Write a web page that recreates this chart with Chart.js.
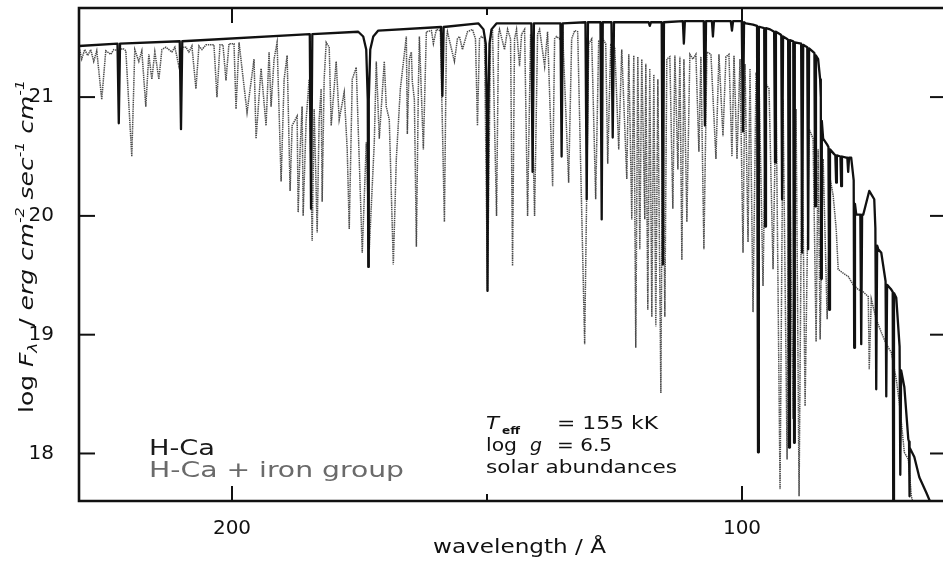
<!DOCTYPE html>
<html><head><meta charset="utf-8">
<script src="https://cdn.jsdelivr.net/npm/chart.js@4.4.1/dist/chart.umd.min.js"></script>
<style>html,body{margin:0;padding:0;background:#fff;overflow:hidden;width:943px;height:561px}canvas{display:block}</style>
</head><body><canvas id="c" width="950" height="561"></canvas>
<script>
// ---- data (wavelength in Å, log F_lambda) ----
const seriesNames = ['H-Ca', 'H-Ca + iron group'];
const xTickValues = [200, 150, 100];
const xTickLabels = ['200', '', '100'];
const yTickValues = [18, 19, 20, 21];

const hcaSpectrum = [
[230.0,21.43],
[222.45,21.45],[222.2,20.78],[221.95,21.45],
[210.25,21.47],[210.0,20.73],[209.75,21.47],
[184.75,21.53],[184.5,20.06],[184.25,21.53],
[175.25,21.55],[174.27,21.51],[173.68,21.40],[173.38,20.98],[173.28,19.57],[173.18,20.98],[172.89,21.40],[172.30,21.51],[171.32,21.56],
[159.0,21.59],[158.75,21.01],[158.5,21.59],
[151.67,21.62],[150.69,21.57],[150.24,21.45],[150.0,20.81],[149.9,19.37],[149.78,20.81],[149.51,21.45],[149.12,21.57],[148.14,21.62],
[141.3,21.62],[141.06,20.37],[140.8,21.62],
[135.6,21.62],[135.37,20.50],[135.15,21.62],
[130.7,21.63],[130.45,20.14],[130.2,21.63],
[127.75,21.63],[127.51,19.97],[127.3,21.63],
[125.6,21.63],[125.35,20.66],[125.1,21.63],
[118.3,21.63],[118.08,21.60],[117.85,21.63],
[115.75,21.63],[115.52,19.59],[115.3,21.63],
[111.6,21.64],[111.40,21.45],[111.2,21.64],
[107.5,21.64],[107.27,20.76],[107.05,21.64],
[105.9,21.64],[105.70,21.51],[105.5,21.64],
[102.2,21.64],[101.97,21.56],[101.75,21.64],
[100.05,21.64],[99.81,20.71],[99.6,21.63],
[99.22,21.62],[97.84,21.61],
[97.05,21.60],[96.86,18.01],[96.7,21.59],
[96.46,21.59],
[95.65,21.58],[95.48,19.91],[95.3,21.58],
[94.49,21.57],
[93.7,21.55],[93.52,20.45],[93.35,21.55],
[92.53,21.53],
[92.3,21.52],[92.14,20.14],[91.95,21.51],
[91.15,21.49],
[90.95,21.48],[90.77,18.05],[90.6,21.48],
[89.95,21.47],[89.79,18.09],[89.65,21.46],
[88.4,21.45],[88.21,19.69],[88.0,21.44],
[87.62,21.43],
[87.2,21.42],[87.03,19.72],[86.85,21.41],
[86.05,21.38],
[85.8,21.37],[85.66,20.08],[85.5,21.35],
[85.07,21.32],
[84.68,21.15],
[84.55,21.0],[84.48,19.47],[84.35,20.8],
[84.09,20.65],
[83.30,20.60],
[83.05,20.58],[82.91,19.21],[82.75,20.56],
[81.93,20.52],
[81.7,20.51],[81.54,20.28],[81.4,20.51],
[80.7,20.50],[80.55,20.25],[80.4,20.50],
[79.57,20.49],
[79.35,20.49],[79.18,20.37],[79.0,20.49],
[78.59,20.49],
[78.1,20.3],[78.0,18.89],[77.85,20.1],
[77.59,20.01],
[76.8,20.01],[76.62,18.92],[76.45,20.01],
[76.23,20.01],
[75.05,20.21],
[74.07,20.14],
[73.85,19.9],[73.68,18.54],[73.5,19.75],
[73.28,19.72],
[72.69,19.69],
[71.85,19.45],[71.71,18.48],[71.55,19.42],
[70.73,19.38],
[70.45,19.36],[70.34,17.5],[70.2,19.35],
[69.75,19.31],
[69.1,18.9],[68.96,17.82],[68.8,18.7],
[68.17,18.56],
[67.39,18.12],
[67.25,18.1],[67.19,17.64],[67.1,18.05],
[66.21,17.97],
[65.23,17.80],
[63.85,17.67],
[62.87,17.57]
];

const ironSpectrum = [
[229.86,21.40],[229.47,21.32],[228.88,21.40],[228.29,21.35],[227.70,21.40],[227.11,21.30],[226.52,21.39],[225.54,20.98],[224.75,21.39],[223.77,21.36],[223.18,21.40],[222.20,21.39],[221.41,21.41],[220.82,21.39],[219.65,20.50],[219.06,21.40],[218.27,21.30],[217.68,21.39],[216.90,20.92],[216.31,21.36],[215.72,21.15],[215.13,21.38],[214.34,21.15],[213.75,21.40],[212.97,21.42],[211.79,21.38],[211.20,21.42],[210.41,21.26],[209.63,21.42],[209.04,21.42],[208.45,21.38],[207.86,21.43],[207.07,21.07],[206.48,21.43],[205.89,21.40],[205.11,21.44],[204.32,21.44],[203.54,21.44],[202.95,21.00],[202.36,21.44],[201.77,21.44],[201.18,21.14],[200.59,21.45],
[199.61,21.45],[199.21,20.90],[198.62,21.46],[197.05,20.87],[195.68,21.32],[195.28,20.65],[194.30,21.24],[193.32,20.76],[192.73,21.38],[192.34,20.92],[191.75,21.32],[191.16,21.46],[190.37,20.29],[189.78,21.15],[189.19,21.35],[188.61,20.21],[188.21,20.76],[187.23,20.84],[187.03,20.03],[186.64,20.56],[186.25,20.92],[186.05,20.00],[185.46,20.81],[184.87,21.15],[184.28,19.79],[183.89,20.90],[183.30,19.86],[182.91,20.81],[182.52,21.07],[182.32,20.12],[181.93,21.15],[181.53,21.46],[180.94,21.42],[180.55,20.76],[179.57,21.30],[178.98,20.81],[178.00,21.04],[177.41,20.56],[177.01,19.89],[176.42,21.15],[175.64,21.25],[174.46,19.69],[173.67,20.62],[173.08,19.72],[172.10,20.62],[171.71,21.30],
[171.12,20.65],[170.14,21.30],[169.75,20.92],[169.16,20.81],[168.37,19.59],[167.78,20.48],[166.99,21.07],[165.82,21.51],[165.62,20.69],[165.23,21.32],[164.83,21.38],[164.64,21.13],[164.24,20.98],[163.85,19.74],[163.46,21.07],[163.26,21.51],[162.48,20.56],[161.89,21.55],[160.90,21.56],[160.51,21.45],[159.92,21.57],[159.14,21.56],[158.35,19.95],[157.96,21.49],[157.76,21.55],[156.39,21.30],[155.80,21.49],[155.40,21.51],[154.81,21.40],[153.83,21.55],[152.85,21.57],[152.26,21.49],[151.87,20.76],[151.47,21.49],[151.08,21.51],[150.49,21.49],[149.90,19.36],[149.31,21.49],[148.92,21.57],[148.13,20.00],[147.74,21.53],[147.55,21.57],[146.56,21.40],[145.97,21.57],[145.38,21.49],[144.99,19.58],[144.60,21.49],[144.21,21.57],[143.62,21.26],[143.22,21.53],[142.63,21.57],[142.04,20.00],[141.45,21.53],
[140.67,20.00],[140.08,21.53],[139.69,21.57],[138.70,21.26],[138.12,21.55],[137.13,20.25],[136.74,21.49],[136.35,21.51],[135.76,21.49],[135.17,21.55],[133.99,20.28],[133.40,21.49],[132.81,21.56],[132.22,21.55],[130.85,18.92],[130.06,21.45],[129.47,21.49],[128.69,20.14],[128.10,21.47],[127.31,21.49],[126.72,21.45],[126.33,20.44],[125.74,21.44],[124.95,21.42],[124.17,20.56],[123.58,21.40],[122.59,20.31],[122.20,21.36],[121.61,19.97],[121.22,21.35],[120.83,18.89],[120.43,21.34],[120.04,19.72],[119.65,21.32],[119.06,19.97],[118.86,21.28],[118.47,19.21],[118.08,21.24],[117.68,19.15],[117.29,21.19],[116.90,19.07],[116.50,21.15],[115.91,18.51],[115.52,21.24],[115.13,19.15],[114.74,21.32],[114.15,21.34],[113.56,20.06],[113.16,21.35],[112.57,20.39],[112.18,21.34],
[111.79,19.63],[111.39,21.32],[110.81,19.95],[110.22,21.36],[109.63,21.32],[109.04,21.36],[108.45,20.54],[108.06,21.34],[107.47,19.72],[106.88,21.38],[106.09,21.36],[105.11,20.48],[104.52,21.36],[103.73,20.67],[103.15,21.34],[102.56,21.36],[101.97,20.50],[101.57,21.35],[100.98,20.48],[100.39,21.32],[99.80,19.69],[99.41,21.28],[98.82,19.78],[98.43,21.24],[97.84,19.19],[97.25,21.19],[96.66,21.15],[95.88,19.41],[95.29,21.11],[94.70,21.07],[93.91,19.55],[93.32,21.03],[92.54,17.70],[91.95,20.98],[91.16,17.95],[90.77,20.94],[89.98,18.29],[89.40,20.90],[88.81,17.64],[88.22,20.81],[87.63,18.40],[86.84,20.73],[86.06,20.65],[85.47,18.94],[85.07,20.56],[84.68,18.96],[84.09,20.48],[83.30,19.13],[82.71,20.31],[82.12,20.17],[81.53,19.89],[81.14,19.55],[80.55,19.53],[79.17,19.49],[78.19,19.42],[77.21,19.38],[76.23,19.36],[75.24,19.32],[75.05,18.71],[74.65,19.30],[73.67,19.13],[72.69,19.02],[71.71,18.92],[70.72,18.85],[69.74,18.62],[69.15,18.43],[68.17,18.01],[67.38,17.95],[66.79,17.64],[66.40,17.57]
];

// ---- drawing helpers ----
const FONT = '"DejaVu Sans", "Liberation Sans", sans-serif';
function fitText(ctx, text, x, y, width, font, color) {
  ctx.font = font; ctx.fillStyle = color;
  if ('letterSpacing' in ctx) ctx.letterSpacing = '0px';
  const w = ctx.measureText(text).width;
  ctx.save(); ctx.translate(x, y); ctx.scale(width / w, 1); ctx.fillText(text, 0, 0); ctx.restore();
}
function richText(ctx, parts, width) {
  let total = 0;
  parts.forEach(p => { ctx.font = p.font; p.w = ctx.measureText(p.t).width; total += p.w; });
  ctx.save(); ctx.scale(width / total, 1);
  let cx = 0;
  parts.forEach(p => { ctx.font = p.font; ctx.fillText(p.t, cx, p.dy || 0); cx += p.w; });
  ctx.restore();
}

const framePlugin = {
  id: 'frame',
  afterDraw(chart) {
    const ctx = chart.ctx, a = chart.chartArea, xs = chart.scales.x, ys = chart.scales.y;
    ctx.save();
    ctx.strokeStyle = '#111'; ctx.lineCap = 'butt';
    ctx.lineWidth = 2.6;
    ctx.beginPath();
    ctx.moveTo(a.left, a.bottom); ctx.lineTo(a.left, a.top); ctx.lineTo(a.right, a.top);
    ctx.lineTo(a.right, a.bottom); ctx.closePath(); ctx.stroke();
    ctx.lineWidth = 2;
    const seg = (x1, y1, x2, y2) => { ctx.beginPath(); ctx.moveTo(x1, y1); ctx.lineTo(x2, y2); ctx.stroke(); };
    xTickValues.forEach((v, i) => {
      const px = xs.getPixelForValue(v);
      const len = xTickLabels[i] ? 15 : 7;
      seg(px, a.top, px, a.top + len);
      seg(px, a.bottom, px, a.bottom - len);
    });
    yTickValues.forEach(v => {
      const py = ys.getPixelForValue(v);
      seg(a.left, py, a.left + 16, py);
      seg(a.right, py, a.right - 16, py);
    });
    ctx.textBaseline = 'alphabetic'; ctx.textAlign = 'left';
    fitText(ctx, 'wavelength / Å', 433, 553, 173, '20px ' + FONT, '#111');
    ctx.save();
    ctx.translate(33, 413); ctx.rotate(-Math.PI / 2);
    ctx.fillStyle = '#111';
    richText(ctx, [
      {t: 'log ', font: '19px ' + FONT},
      {t: 'F', font: 'oblique 19px ' + FONT},
      {t: 'λ', font: 'oblique 13px ' + FONT, dy: 4},
      {t: '  / ', font: '19px ' + FONT},
      {t: 'erg cm', font: 'oblique 19px ' + FONT},
      {t: '-2', font: 'oblique 12px ' + FONT, dy: -9},
      {t: ' sec', font: 'oblique 19px ' + FONT},
      {t: '-1', font: 'oblique 12px ' + FONT, dy: -9},
      {t: ' cm', font: 'oblique 19px ' + FONT},
      {t: '-1', font: 'oblique 12px ' + FONT, dy: -9}
    ], 333);
    ctx.restore();
    fitText(ctx, seriesNames[0], 149, 455, 66, '21px ' + FONT, '#1a1a1a');
    fitText(ctx, seriesNames[1], 149, 477, 255, '21px ' + FONT, '#6a6a6a');
    const c = '#111';
    fitText(ctx, 'T', 486, 429, 13, 'oblique 18px ' + FONT, c);
    fitText(ctx, 'eff', 502, 434, 18, 'bold 11px ' + FONT, c);
    fitText(ctx, '= 155 kK', 557, 429, 101, '18px ' + FONT, c);
    fitText(ctx, 'log', 486, 451, 31, '18px ' + FONT, c);
    fitText(ctx, 'g', 530, 451, 12, 'oblique 18px ' + FONT, c);
    fitText(ctx, '= 6.5', 557, 451, 55, '18px ' + FONT, c);
    fitText(ctx, 'solar abundances', 486, 473, 191, '18px ' + FONT, c);
    ctx.restore();
  }
};

const toXY = arr => arr.map(p => ({x: p[0], y: p[1]}));

new Chart(document.getElementById('c'), {
  type: 'line',
  data: {
    datasets: [
      {label: seriesNames[0], data: toXY(hcaSpectrum), borderColor: '#111', borderWidth: 2.3,
       pointRadius: 0, tension: 0, borderJoinStyle: 'round', order: 0},
      {label: seriesNames[1], data: toXY(ironSpectrum), borderColor: '#4a4a4a', borderWidth: 1.5,
       borderDash: [1.4, 0.8], pointRadius: 0, tension: 0, order: 1}
    ]
  },
  options: {
    responsive: false, animation: false,
    layout: {padding: {top: 8, right: 4, left: 0, bottom: 0}},
    plugins: {legend: {display: false}, tooltip: {enabled: false}},
    scales: {
      x: {type: 'linear', reverse: true, min: 60, max: 230,
          grid: {display: false}, border: {display: false},
          afterBuildTicks: s => { s.ticks = xTickValues.map(v => ({value: v})); },
          afterFit: s => { s.height = 60; s.paddingLeft = 0; s.paddingRight = 0; },
          ticks: {color: '#111', font: {family: FONT, size: 20}, padding: 8, maxRotation: 0,
                  callback: v => xTickLabels[xTickValues.indexOf(v)] ?? ''}},
      y: {type: 'linear', min: 17.6, max: 21.75,
          grid: {display: false}, border: {display: false},
          afterBuildTicks: s => { s.ticks = yTickValues.map(v => ({value: v})); },
          afterFit: s => { s.width = 79; s.paddingTop = 0; s.paddingBottom = 0; },
          ticks: {color: '#111', font: {family: FONT, size: 20}, padding: 17,
                  callback: v => String(v)}}
    }
  },
  plugins: [framePlugin]
});
</script>
</body></html>
